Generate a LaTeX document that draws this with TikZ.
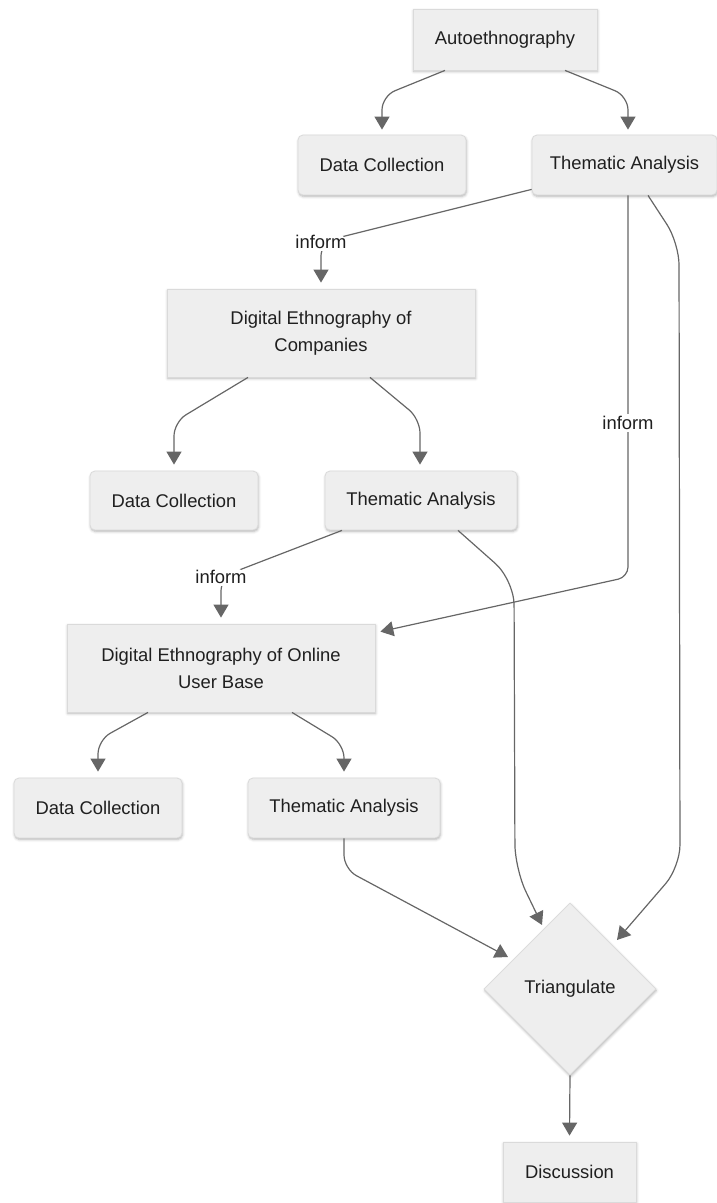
\documentclass[tikz,border=0pt]{standalone}
\usepackage{fontspec}
\setmainfont{Liberation Sans}
\usetikzlibrary{shapes.geometric,arrows.meta,shadows.blur,calc}
\definecolor{boxfill}{HTML}{EEEEEE}
\definecolor{boxline}{HTML}{DADADA}
\definecolor{edgecol}{HTML}{666666}
\begin{document}
\begin{tikzpicture}[x=1pt,y=-1pt,
  box/.style={draw=boxline, fill=boxfill, line width=0.8pt, inner sep=0pt, align=center,
    text=black!88, font=\fontsize{18.4}{27}\selectfont,
    blur shadow={shadow xshift=0.6pt, shadow yshift=-1.6pt, shadow blur radius=2.5pt, shadow opacity=30}},
  rbox/.style={box, rounded corners=5pt},
  conn/.style={draw=edgecol, line width=1.2pt, rounded corners=14pt},
  arr/.style={conn, -{Triangle[length=13pt,width=15pt]}},
  lbl/.style={fill=white, inner sep=2pt, text=black!88, font=\fontsize{18.4}{22}\selectfont}]
\useasboundingbox (0,0) rectangle (717,1203);

% nodes
\node[box, minimum width=184pt, minimum height=61pt] (auto) at (505,39.5) {Autoethnography};
\node[rbox, minimum width=168pt, minimum height=60pt] (dc1) at (382,165) {Data Collection};
\node[rbox, minimum width=185pt, minimum height=60pt] (ta1) at (624.5,165) {Thematic Analysis};
\node[box, minimum width=308pt, minimum height=88pt] (dec) at (321,333) {Digital Ethnography of\\Companies};
\node[rbox, minimum width=168pt, minimum height=59pt] (dc2) at (174,500.5) {Data Collection};
\node[rbox, minimum width=192pt, minimum height=59pt] (ta2) at (421,500.5) {Thematic Analysis};
\node[box, minimum width=308pt, minimum height=88pt] (deoub) at (221,668) {Digital Ethnography of Online\\User Base};
\node[rbox, minimum width=168pt, minimum height=60pt] (dc3) at (98,808) {Data Collection};
\node[rbox, minimum width=192pt, minimum height=60pt] (ta3) at (344,808) {Thematic Analysis};
\node[box, diamond, aspect=1, minimum width=172pt, minimum height=172pt] (tri) at (570,989) {Triangulate};
\node[box, minimum width=133pt, minimum height=60pt] (disc) at (569.5,1172) {Discussion};

% connectors
\draw[arr] ($(auto.south)+(-60,0)$) -- (382,96) -- ($(dc1.north)+(0,-5)$);
\draw[arr] ($(auto.south)+(60,0)$) -- (628,96) -- ($(ta1.north)+(3.5,-5)$);

\draw[arr] ($(ta1.south west)+(0,-6)$) -- (321,242) node[lbl] (l1) {inform} -- ($(dec.north)+(0,-6)$);
\draw[arr, rounded corners=10pt] ($(ta1.south)+(3.5,0)$) -- (628,577) -- ($(deoub.north east)+(5,8)$);
\node[lbl] (l2) at (628,423) {inform};
\draw[arr, rounded corners=22pt] ($(ta1.south)+(23.5,0)$) -- (679,243) -- (680,867) -- ($(tri.center)+(47,-49)$);

\draw[arr] ($(dec.south)+(-73,0)$) -- (174,422) -- ($(dc2.north)+(0,-6)$);
\draw[arr] ($(dec.south)+(49,0)$) -- (420,419) -- ($(ta2.north)+(-1,-6)$);

\draw[arr] ($(ta2.south)+(-79,0)$) -- (221,577) node[lbl] (l3) {inform} -- ($(deoub.north)+(0,-6)$);
\draw[arr, rounded corners=25pt] ($(ta2.south)+(37,0)$) -- (514,580) -- (515,869) -- ($(tri.center)+(-28,-64)$);

\draw[arr] ($(deoub.south)+(-73,0)$) -- (98,740) -- ($(dc3.north)+(0,-6)$);
\draw[arr] ($(deoub.south)+(71,0)$) -- (344,744) -- ($(ta3.north)+(0,-6)$);

\draw[arr] (ta3.south) -- (344,869) -- ($(tri.center)+(-62,-32)$);
\draw[arr] (tri.south) -- ($(disc.north)+(0,-6)$);
\end{tikzpicture}
\end{document}
